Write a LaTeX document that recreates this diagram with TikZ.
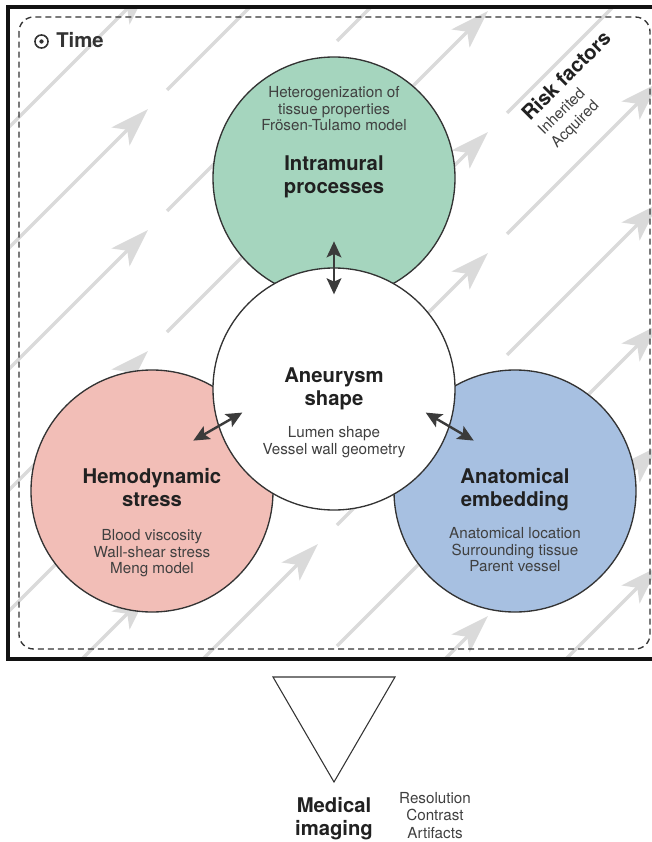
\documentclass[tikz,border=0pt]{standalone}
\usepackage{fontspec}
\setmainfont{TeX Gyre Heros}
\usetikzlibrary{arrows.meta,calc}

\definecolor{intragreen}{HTML}{A5D5BE}
\definecolor{hemored}{HTML}{F2BEB7}
\definecolor{anatblue}{HTML}{A7C0E1}
\definecolor{trail}{HTML}{DADADA}
\definecolor{ink}{HTML}{333333}

\begin{document}
\begin{tikzpicture}[x=0.75pt,y=-0.75pt,
  blob/.style={circle,draw=ink,line width=1pt,minimum size=181.5pt,inner sep=0pt},
  heading/.style={font=\bfseries\fontsize{15.2}{17.3}\selectfont,text=black!87,align=center,inner sep=0pt},
  detail/.style={font=\fontsize{11.4}{12.6}\selectfont,text=black!75,align=center,inner sep=0pt},
  twoway/.style={{Stealth[length=12pt,width=11pt,inset=2.5pt]}-{Stealth[length=12pt,width=11pt,inset=2.5pt]},line width=1.8pt,draw=black!77},
  drift/.style={-{Stealth[length=29pt,width=19pt,inset=7pt]},line width=2.5pt,draw=trail}]
\useasboundingbox (0,0) rectangle (652,842);

% time runs diagonally behind everything
\begin{scope}
\clip (8,7) rectangle (670,659);
\foreach \k in {0,...,4}
  \foreach \n in {0,...,12}
    \draw[drift] ({170*\k-3},{18+121*\n-170*\k}) -- ++(151,-151);
\end{scope}

\draw[line width=2.6pt,draw=black!93] (8,7) rectangle (670,659);
\draw[ink,line width=1pt,dash pattern=on 4.5pt off 3pt,rounded corners=11pt] (19,17) rectangle (650,649);

% time label
\draw[ink,line width=1.2pt] (41.5,41.5) circle (4.9pt);
\fill[ink] (41.5,41.5) circle (1.6pt);
\node[heading,anchor=base west,text=ink] (time) at (56,48) {Time};

% the four factors
\node[blob,fill=intragreen] (intra) at (334,178) {};
\node[blob,fill=hemored] (hemo) at (152,491) {};
\node[blob,fill=anatblue] (anat) at (515,491) {};
\node[blob,fill=white] (shape) at (334,389) {};

\node[detail,anchor=north] (intrasub) at (334,86) {Heterogenization of\\tissue properties\\Frösen-Tulamo model};
\node[heading,anchor=north] (intrahead) at (334,155) {Intramural\\processes};
\node[heading,anchor=north] (shapehead) at (334,367) {Aneurysm\\shape};
\node[detail,anchor=north] (shapesub) at (334,426) {Lumen shape\\Vessel wall geometry};
\node[heading,anchor=north] (hemohead) at (152,468) {Hemodynamic\\stress};
\node[detail,anchor=north] (hemosub) at (152,529) {Blood viscosity\\Wall-shear stress\\Meng model};
\node[heading,anchor=north] (anathead) at (515,468) {Anatomical\\embedding};
\node[detail,anchor=north] (anatsub) at (515,527) {Anatomical location\\Surrounding tissue\\Parent vessel};

\draw[twoway] ($(shape.north)+(0,-26)$) -- ($(shape.north)+(0,27)$);
\draw[twoway] ($(shape.198)+(-25,14)$) -- ($(shape.198)+(24,-14)$);
\draw[twoway] ($(shape.342)+(-24,-14)$) -- ($(shape.342)+(24,14)$);

% risk factors
\node[heading,rotate=45,anchor=base west] (risk) at (530,122) {Risk factors};
\node[detail,rotate=45,anchor=north west,align=left,font=\fontsize{11.4}{13.8}\selectfont] (riskitems) at ($(risk.base west)+(6,6)$) {Inherited\\Acquired};

% imaging
\draw[ink,line width=0.8pt] (273,677) -- (395,677) -- (334,782) -- cycle;
\node[heading,anchor=north] (imaging) at (334,797) {Medical\\imaging};
\node[detail,anchor=north,font=\fontsize{11.4}{13.1}\selectfont] (imagingsub) at (435,792) {Resolution\\Contrast\\Artifacts};
\end{tikzpicture}
\end{document}
